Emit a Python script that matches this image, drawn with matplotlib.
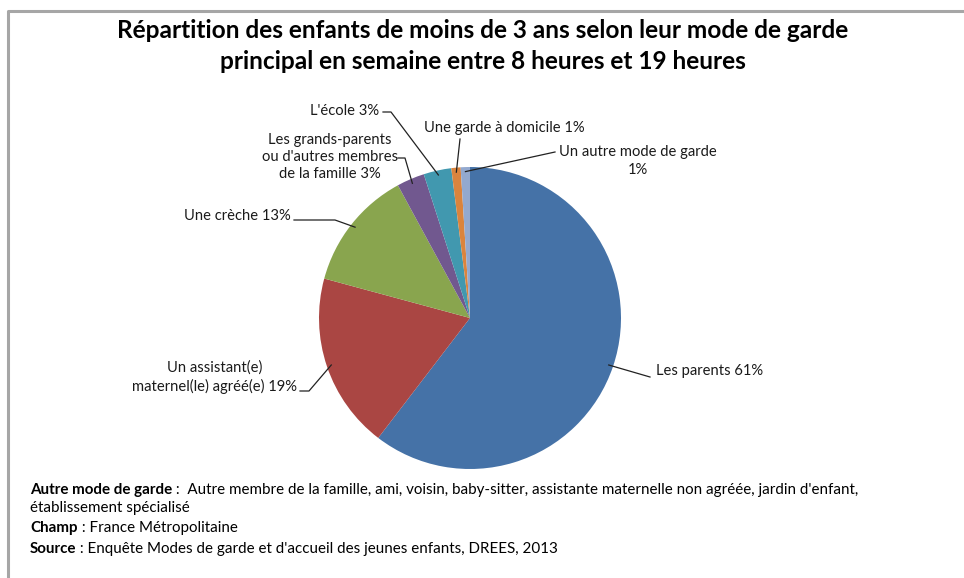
import numpy as np
import matplotlib
matplotlib.use('Agg')
import matplotlib.pyplot as plt

plt.rcParams['font.family'] = ['Lato', 'DejaVu Sans']

# data
categories = [
    "Les parents",
    "Un assistant(e)\nmaternel(le) agréé(e)",
    "Une crèche",
    "Les grands-parents\nou d'autres membres\nde la famille",
    "L'école",
    "Une garde à domicile",
    "Un autre mode de garde\n",
]
shares = [61, 19, 13, 3, 3, 1, 1]
colors = ['#4572A7', '#AA4643', '#89A54E', '#71588F', '#4198AF', '#DB843D', '#93A9CF']

title = ("Répartition des enfants de moins de 3 ans selon leur mode de garde\n"
         "principal en semaine entre 8 heures et 19 heures")

W, H = 964, 578
fig = plt.figure(figsize=(W / 100, H / 100), dpi=100)
ax = fig.add_axes([0, 0, 1, 1])


def Y(py):
    # pixel row -> data y
    return H - py


cx, cy, r = 470, Y(318), 151
wedges, _ = ax.pie(shares, colors=colors, startangle=90, counterclock=False,
                   center=(cx, cy), radius=r, wedgeprops=dict(linewidth=0))

ax.set_xlim(0, W)
ax.set_ylim(0, H)
ax.set_aspect('auto')
ax.set_axis_off()

# label layout: (text x, text y, ha, line points in pixels)
layout = [
    (656, 371, 'left', [(650, 377)]),
    (297, 377, 'right', [(300, 391), (309, 391)]),
    (291, 216, 'right', [(294, 220), (335, 220)]),
    (330, 157, 'center', [(398, 158), (405, 158)]),
    (379, 111, 'right', [(383, 112), (391, 112)]),
    (504, 128, 'center', [(460, 139)]),
    (638, 161, 'center', [(555, 152)]),
]

lab_fs = 10.6
for w, cat, val, (tx, ty, ha, pts) in zip(wedges, categories, shares, layout):
    if cat.endswith('\n'):
        label = f"{cat}{val}%"
    else:
        label = f"{cat} {val}%"
    ax.text(tx, Y(ty), label, ha=ha, va='center', fontsize=lab_fs, color='#1a1a1a',
            linespacing=1.3, multialignment='center')
    mid = np.deg2rad((w.theta1 + w.theta2) / 2)
    ex = cx + r * 0.97 * np.cos(mid)
    ey = cy + r * 0.97 * np.sin(mid)
    xs = [p[0] for p in pts] + [ex]
    ys = [Y(p[1]) for p in pts] + [ey]
    ax.plot(xs, ys, color='#222222', lw=0.9)

ax.text(483, Y(46), title, ha='center', va='center', fontsize=17.6,
        fontweight='bold', color='black', linespacing=1.4)

# footnotes
notes = [
    ("Autre mode de garde", " :  Autre membre de la famille, ami, voisin, baby-sitter, assistante maternelle non agréée, jardin d'enfant,"),
    ("", "établissement spécialisé"),
    ("Champ", " : France Métropolitaine"),
    ("Source", " : Enquête Modes de garde et d'accueil des jeunes enfants, DREES, 2013"),
]
note_y = [490, 508, 528, 549]
note_fs = 10.9
fig.canvas.draw()
inv = ax.transData.inverted()
for (bold, rest), py in zip(notes, note_y):
    x0 = 30
    if bold:
        t = ax.text(x0, Y(py), bold, ha='left', va='center', fontsize=note_fs,
                    fontweight='bold', color='black')
        bb = t.get_window_extent(renderer=fig.canvas.get_renderer())
        x0 = inv.transform((bb.x1, bb.y0))[0]
    ax.text(x0, Y(py), rest, ha='left', va='center', fontsize=note_fs, color='black')

# chart area frame (left and top edges)
ax.plot([8, 8, W], [0, Y(11), Y(11)], color='#a6a6a6', lw=2.2)

fig.savefig('out.png', dpi=100)
